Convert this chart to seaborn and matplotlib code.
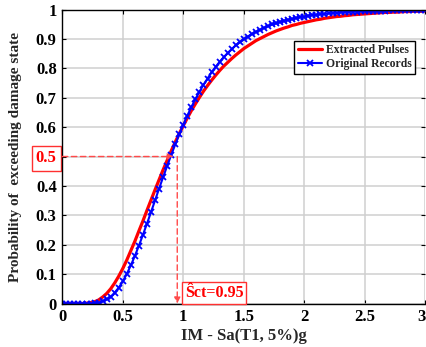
import numpy as np
import pandas as pd
import matplotlib
matplotlib.use("Agg")
import matplotlib.pyplot as plt
import seaborn as sns

# Intensity measure levels, Sa(T1, 5%) in g
im_levels = np.linspace(0, 3, 91)

# Probability of exceeding the damage state at each IM level
p_original_records = [
    0.000, 0.000, 0.000, 0.000, 0.000, 0.000, 0.000, 0.000, 0.001, 0.003,
    0.007, 0.014, 0.023, 0.037, 0.054, 0.075, 0.101, 0.130, 0.162, 0.197,
    0.234, 0.272, 0.311, 0.351, 0.391, 0.430, 0.468, 0.505, 0.541, 0.575,
    0.608, 0.639, 0.668, 0.695, 0.720, 0.744, 0.765, 0.786, 0.804, 0.822,
    0.837, 0.852, 0.865, 0.878, 0.889, 0.899, 0.908, 0.917, 0.924, 0.931,
    0.938, 0.943, 0.949, 0.953, 0.958, 0.962, 0.965, 0.968, 0.971, 0.974,
    0.976, 0.979, 0.981, 0.982, 0.984, 0.985, 0.987, 0.988, 0.989, 0.990,
    0.991, 0.992, 0.993, 0.993, 0.994, 0.994, 0.995, 0.995, 0.996, 0.996,
    0.996, 0.997, 0.997, 0.997, 0.998, 0.998, 0.998, 0.998, 0.998, 0.998,
    0.999,
]
p_extracted_pulses = [
    0.000, 0.000, 0.000, 0.000, 0.000, 0.000, 0.001, 0.003, 0.006, 0.012,
    0.022, 0.034, 0.050, 0.070, 0.093, 0.119, 0.148, 0.180, 0.212, 0.247,
    0.281, 0.317, 0.352, 0.387, 0.421, 0.455, 0.487, 0.519, 0.549, 0.578,
    0.605, 0.631, 0.656, 0.679, 0.701, 0.722, 0.741, 0.759, 0.776, 0.792,
    0.807, 0.820, 0.833, 0.845, 0.856, 0.867, 0.876, 0.885, 0.894, 0.901,
    0.908, 0.915, 0.921, 0.927, 0.932, 0.937, 0.941, 0.946, 0.949, 0.953,
    0.956, 0.959, 0.962, 0.965, 0.967, 0.970, 0.972, 0.974, 0.976, 0.977,
    0.979, 0.980, 0.982, 0.983, 0.984, 0.985, 0.986, 0.987, 0.988, 0.989,
    0.990, 0.990, 0.991, 0.991, 0.992, 0.993, 0.993, 0.994, 0.994, 0.994,
    0.995,
]
series_names = ["Extracted Pulses", "Original Records"]

# Median capacity and the probability level it is read at
s_ct = 0.95
p_median = 0.5

x_ticks = [0, 0.5, 1, 1.5, 2, 2.5, 3]
x_tick_labels = ["0", "0.5", "1", "1.5", "2", "2.5", "3"]
y_ticks = [0, 0.1, 0.2, 0.3, 0.4, 0.5, 0.6, 0.7, 0.8, 0.9, 1]
y_tick_labels = ["0", "0.1", "0.2", "0.3", "0.4", "0.5", "0.6", "0.7", "0.8", "0.9", "1"]

df = pd.DataFrame({
    "im": np.concatenate([im_levels, im_levels]),
    "p": p_extracted_pulses + p_original_records,
    "series": [series_names[0]] * len(im_levels) + [series_names[1]] * len(im_levels),
})

sns.set_theme(style="whitegrid")
plt.rcParams["font.family"] = ["Liberation Serif", "DejaVu Serif"]
plt.rcParams["font.weight"] = "bold"
plt.rcParams["axes.labelweight"] = "bold"

fig = plt.figure(figsize=(4.26, 3.47), dpi=100)
W, H = 426.0, 347.0
x0, x1, y0, y1 = 62.3, 425.3, 303.5, 9.5
ax = fig.add_axes([x0 / W, (H - y0) / H, (x1 - x0) / W, (y0 - y1) / H])
ax.set_facecolor("white")

sns.lineplot(data=df[df["series"] == series_names[0]], x="im", y="p",
             color="#ff0000", lw=2.3, ax=ax, label=series_names[0])
sns.lineplot(data=df[df["series"] == series_names[1]], x="im", y="p",
             color="#0000ff", lw=1.5, marker="x", markersize=4.8,
             markeredgewidth=1.3, markeredgecolor="#0000ff",
             ax=ax, label=series_names[1])

ax.set_xlim(0, 3)
ax.set_ylim(0, 1)
ax.set_xticks(x_ticks)
ax.set_xticklabels(x_tick_labels)
ax.set_yticks(y_ticks)
ax.set_yticklabels(y_tick_labels)
ax.grid(True, color="#cfcfcf", lw=1.1)

for side in ("left", "bottom", "top"):
    ax.spines[side].set_visible(True)
    ax.spines[side].set_color("black")
    ax.spines[side].set_linewidth(1.0)
ax.spines["right"].set_visible(False)

ax.tick_params(axis="both", which="major", direction="in", length=3,
               width=0.8, color="black", labelsize=12, top=True, right=True,
               bottom=True, left=True, labelcolor="black")
ax.tick_params(axis="x", pad=4)
ax.tick_params(axis="y", pad=4)

# The last x tick sits on the figure edge; keep its label inside
ax.get_xticklabels()[-1].set_horizontalalignment("right")

# Highlight the 0.5 probability tick label
for lbl in ax.get_yticklabels():
    if lbl.get_text() == "0.5":
        lbl.set_color("red")
        lbl.set_bbox(dict(facecolor="none", edgecolor="#ff3030", lw=1.0, pad=3.0))

ax.set_xlabel("IM - Sa(T1, 5%)g", fontsize=12, fontweight="bold", labelpad=2)
ax.set_ylabel("Probability of  exceeding damage state", fontsize=11, fontweight="bold")
ax.yaxis.set_label_coords((16 - x0) / (x1 - x0), 0.5)
ax.yaxis.label.set_va("center")

# Dashed guides from the 0.5 level to the median capacity
guide = "#ff4a4a"
ax.annotate("", xy=(s_ct - 0.03, p_median), xytext=(0, p_median),
            arrowprops=dict(arrowstyle="-|>", color=guide, lw=1.0,
                            ls=(0, (4, 2.5)), mutation_scale=9,
                            shrinkA=0, shrinkB=0))
ax.annotate("", xy=(s_ct, 0.0), xytext=(s_ct, p_median),
            arrowprops=dict(arrowstyle="-|>", color=guide, lw=1.0,
                            ls=(0, (4, 2.5)), mutation_scale=9,
                            shrinkA=0, shrinkB=0))
ax.text(1.255, 0.036, "\u015cct=%.2f" % s_ct, color="red", fontsize=11.5,
        fontweight="bold", ha="center", va="center",
        bbox=dict(facecolor="white", edgecolor="#ff3030", lw=1.0, pad=2.0))

leg = ax.legend(loc="upper right", bbox_to_anchor=(0.972, 0.894),
                borderaxespad=0, fancybox=False, frameon=True,
                edgecolor="black", fontsize=8.4, handlelength=2.1,
                handletextpad=0.3, labelspacing=0.2, borderpad=0.3)
leg.get_frame().set_linewidth(1.0)
leg.get_frame().set_facecolor("white")
leg.get_frame().set_alpha(1.0)

fig.savefig("out.png", dpi=100)
